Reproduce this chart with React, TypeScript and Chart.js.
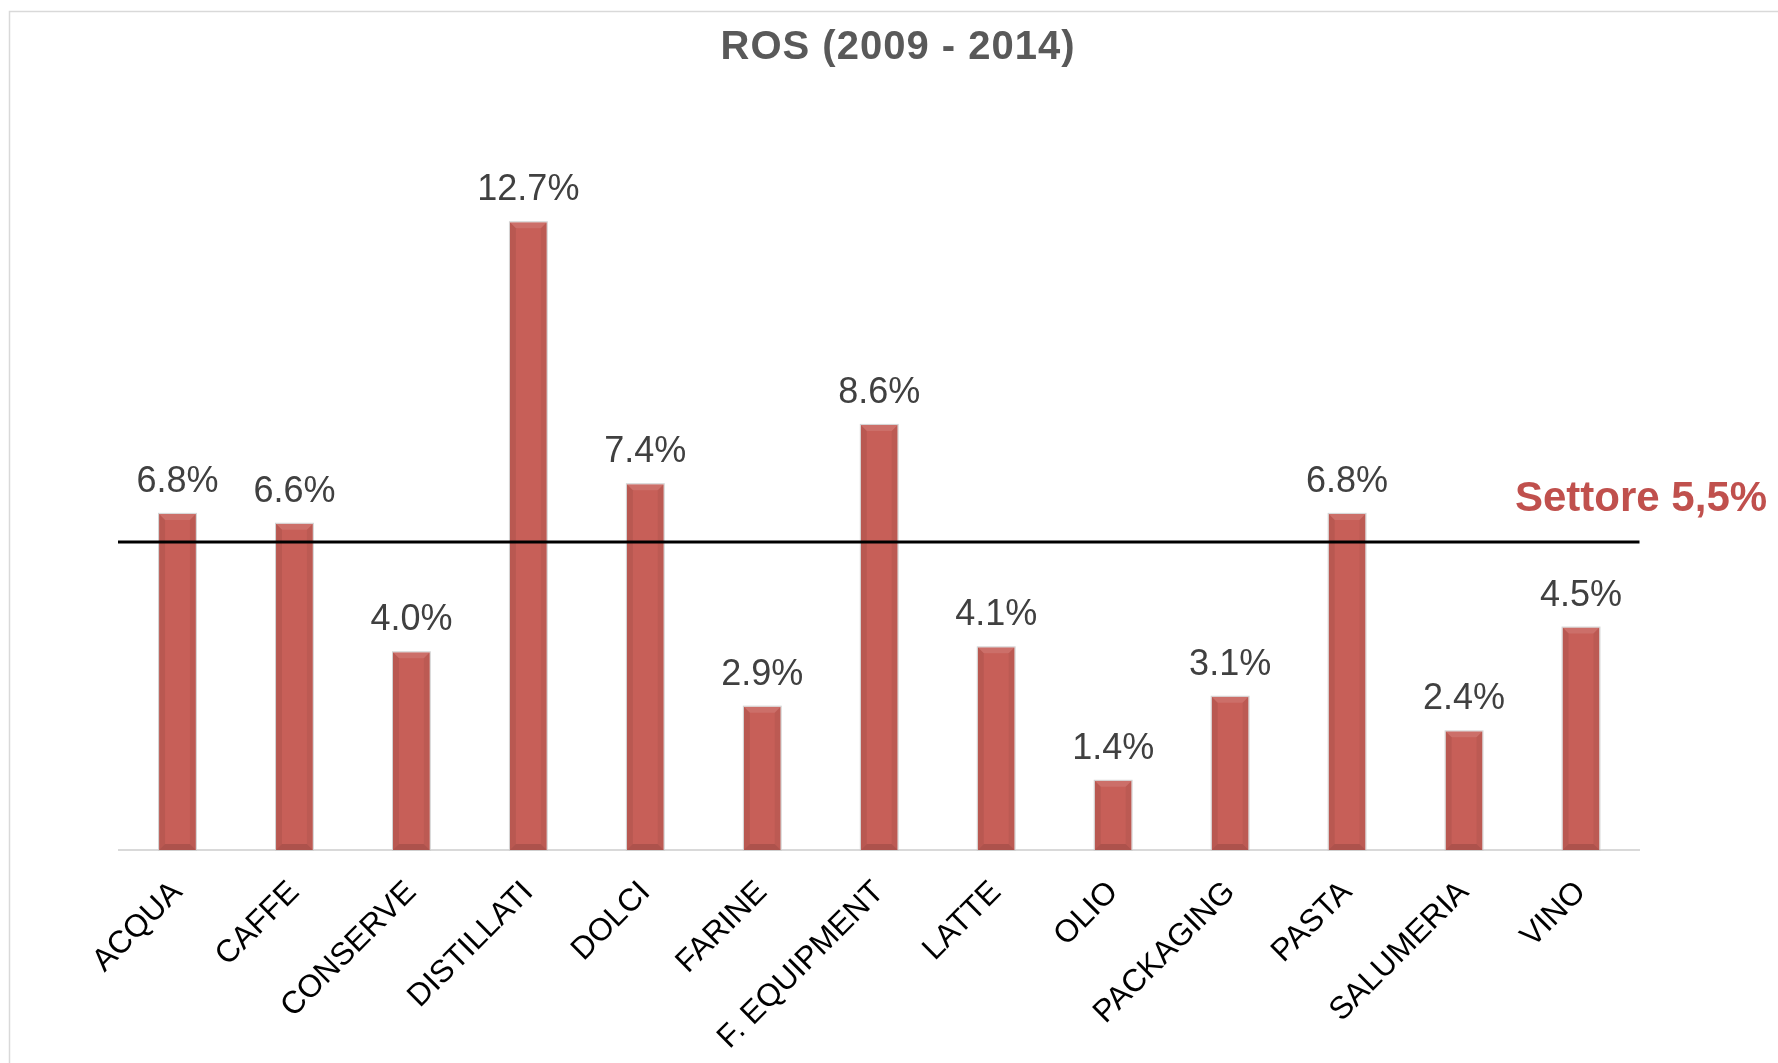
import React, { useEffect, useRef } from "react";
import { Chart, registerables } from "chart.js";

Chart.register(...registerables);

const TITLE = "ROS (2009 - 2014)";
const CATEGORIES = [
  "ACQUA",
  "CAFFE",
  "CONSERVE",
  "DISTILLATI",
  "DOLCI",
  "FARINE",
  "F. EQUIPMENT",
  "LATTE",
  "OLIO",
  "PACKAGING",
  "PASTA",
  "SALUMERIA",
  "VINO",
];
const ROS_VALUES = [6.8, 6.6, 4.0, 12.7, 7.4, 2.9, 8.6, 4.1, 1.4, 3.1, 6.8, 2.4, 4.5];
const SECTOR_LABEL = "Settore 5,5%";
// position of the reference line as drawn in the picture (in value units)
const SECTOR_LINE_VALUE = 6.23;
const Y_MIN = 0;
const Y_MAX = 14;

const FONT = "'Liberation Sans', Arial, Helvetica, sans-serif";
const W = 1778;
const H = 1063;

const decorPlugin = {
  id: "decor",
  beforeDraw(chart: any) {
    const ctx = chart.ctx;
    ctx.save();
    ctx.fillStyle = "#ffffff";
    ctx.fillRect(0, 0, chart.width, chart.height);
    ctx.strokeStyle = "#d9d9d9";
    ctx.lineWidth = 1.5;
    ctx.beginPath();
    ctx.moveTo(9.5, chart.height);
    ctx.lineTo(9.5, 11.5);
    ctx.lineTo(chart.width, 11.5);
    ctx.stroke();
    ctx.restore();
  },
  afterDatasetsDraw(chart: any) {
    const ctx = chart.ctx;
    const meta = chart.getDatasetMeta(0);
    const area = chart.chartArea;
    ctx.save();
    // bevel
    meta.data.forEach((el: any) => {
      const l = el.x - el.width / 2;
      const r = el.x + el.width / 2;
      const t = el.y;
      const b = el.base;
      const s = 6;
      const poly = (pts: number[][], color: string) => {
        ctx.beginPath();
        ctx.moveTo(pts[0][0], pts[0][1]);
        for (let i = 1; i < pts.length; i++) ctx.lineTo(pts[i][0], pts[i][1]);
        ctx.closePath();
        ctx.fillStyle = color;
        ctx.fill();
      };
      poly([[l, t], [r, t], [r - s, t + s], [l + s, t + s]], "rgba(255,255,255,0.10)");
      poly([[l, t], [l + s, t + s], [l + s, b - s], [l, b]], "rgba(0,0,0,0.07)");
      poly([[r, t], [r - s, t + s], [r - s, b - s], [r, b]], "rgba(0,0,0,0.05)");
      poly([[l, b], [l + s, b - s], [r - s, b - s], [r, b]], "rgba(0,0,0,0.13)");
      ctx.strokeStyle = "rgba(205,205,205,0.9)";
      ctx.lineWidth = 1;
      ctx.strokeRect(l - 0.5, t - 0.5, r - l + 1, b - t + 1);
    });
    // value labels
    ctx.fillStyle = "#404040";
    ctx.font = `36px ${FONT}`;
    ctx.textAlign = "center";
    ctx.textBaseline = "alphabetic";
    meta.data.forEach((el: any, i: number) => {
      ctx.fillText(ROS_VALUES[i].toFixed(1) + "%", el.x, el.y - 22);
    });
    // sector line
    const yPix = chart.scales.y.getPixelForValue(SECTOR_LINE_VALUE);
    ctx.strokeStyle = "#000000";
    ctx.lineWidth = 3;
    ctx.beginPath();
    ctx.moveTo(area.left - 1, yPix);
    ctx.lineTo(area.right, yPix);
    ctx.stroke();
    // sector label
    ctx.fillStyle = "#C0504D";
    ctx.font = `bold 42px ${FONT}`;
    ctx.textAlign = "left";
    ctx.fillText(SECTOR_LABEL, 1515, yPix - 31);
    // title
    ctx.fillStyle = "#595959";
    ctx.font = `bold 40px ${FONT}`;
    (ctx as any).letterSpacing = "1px";
    ctx.textAlign = "center";
    ctx.fillText(TITLE, 898, 59);
    (ctx as any).letterSpacing = "0px";
    ctx.restore();
  },
};

export default function App() {
  const ref = useRef<HTMLCanvasElement | null>(null);
  useEffect(() => {
    if (!ref.current) return;
    const chart = new Chart(ref.current, {
      type: "bar",
      data: {
        labels: CATEGORIES,
        datasets: [
          {
            label: "ROS",
            data: ROS_VALUES,
            backgroundColor: "#C75F58",
            borderWidth: 0,
            barPercentage: 0.315,
            categoryPercentage: 1,
          },
        ],
      },
      options: {
        responsive: false,
        animation: false,
        layout: { padding: { left: 119, right: 138.5, top: 158, bottom: 0 } },
        plugins: {
          legend: { display: false },
          title: { display: false },
          tooltip: { enabled: false },
        },
        scales: {
          x: {
            grid: { display: false, drawTicks: false },
            border: { display: true, color: "#d9d9d9", width: 2 },
            ticks: {
              color: "#000000",
              font: { family: FONT, size: 31.5 },
              minRotation: 45,
              maxRotation: 45,
              autoSkip: false,
              padding: 24,
            },
            afterFit(scale: any) {
              scale.height = 213;
            },
          },
          y: {
            display: false,
            min: Y_MIN,
            max: Y_MAX,
          },
        },
      },
      plugins: [decorPlugin],
    });
    return () => chart.destroy();
  }, []);
  return (
    <div style={{ position: "fixed", left: 0, top: 0, width: W, height: H, background: "#fff" }}>
      <canvas ref={ref} width={W} height={H} style={{ width: W, height: H, display: "block" }} />
    </div>
  );
}
